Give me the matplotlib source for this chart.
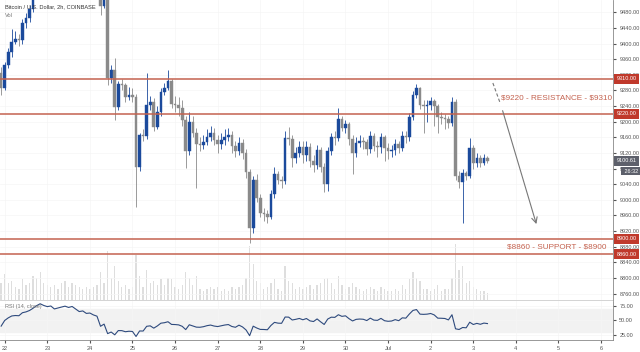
import numpy as np
import matplotlib
matplotlib.use("Agg")
import matplotlib.pyplot as plt
from matplotlib.patches import Rectangle

# BTC/USD 2h candles, Coinbase, 21 Jun 22:00 -> 3 Jul
opens0 = 9325
closes = [9286, 9345, 9378, 9405, 9411, 9409, 9452, 9465, 9488, 9530,
          9590, 9645, 9630, 9620, 9635, 9610, 9630, 9650, 9670, 9660,
          9680, 9660, 9640, 9650, 9630, 9635, 9620, 9610, 9497, 9520,
          9312, 9332, 9237, 9296, 9294, 9262, 9268, 9262, 9083, 9165,
          9163, 9242, 9250, 9187, 9225, 9276, 9285, 9303, 9245, 9242,
          9235, 9205, 9125, 9200, 9172, 9143, 9140, 9148, 9162, 9170,
          9152, 9143, 9152, 9160, 9165, 9137, 9125, 9145, 9120, 9070,
          8927, 9050, 9004, 8966, 8964, 8957, 9016, 9065, 9050, 9047,
          9157, 9155, 9108, 9120, 9135, 9115, 9135, 9100, 9090, 9128,
          9085, 9040, 9125, 9160, 9157, 9208, 9185, 9195, 9155, 9120,
          9145, 9150, 9147, 9130, 9163, 9138, 9135, 9160, 9132, 9125,
          9128, 9143, 9132, 9163, 9160, 9211, 9268, 9285, 9242, 9240,
          9243, 9252, 9240, 9211, 9210, 9208, 9196, 9250, 9060, 9045,
          9068, 9062, 9132, 9093, 9108, 9093, 9108, 9100.61]
highs = [9340, 9352, 9388, 9437, 9432, 9425, 9462, 9478, 9498, 9545,
         9600, 9660, 9660, 9640, 9645, 9642, 9638, 9660, 9685, 9680,
         9695, 9690, 9670, 9662, 9658, 9645, 9642, 9630, 9615, 9540,
         9530, 9345, 9363, 9305, 9310, 9300, 9290, 9285, 9270, 9172,
         9180, 9324, 9265, 9260, 9240, 9285, 9300, 9332, 9310, 9265,
         9262, 9255, 9215, 9225, 9215, 9185, 9160, 9165, 9180, 9190,
         9185, 9165, 9170, 9180, 9185, 9175, 9150, 9160, 9155, 9130,
         9080, 9060, 9065, 9015, 8980, 8975, 9025, 9085, 9075, 9060,
         9175, 9187, 9165, 9135, 9150, 9150, 9150, 9145, 9115, 9140,
         9135, 9095, 9135, 9170, 9175, 9235, 9215, 9205, 9200, 9165,
         9160, 9165, 9160, 9155, 9175, 9170, 9150, 9170, 9165, 9145,
         9140, 9155, 9150, 9175, 9175, 9222, 9278, 9296, 9290, 9255,
         9255, 9262, 9258, 9245, 9225, 9220, 9215, 9262, 9258, 9075,
         9080, 9075, 9158, 9140, 9120, 9115, 9118, 9112]
lows = [9268, 9280, 9338, 9365, 9398, 9395, 9398, 9440, 9455, 9480,
        9522, 9580, 9615, 9600, 9605, 9595, 9600, 9620, 9640, 9645,
        9650, 9645, 9625, 9628, 9620, 9615, 9605, 9590, 9473, 9490,
        9295, 9300, 9204, 9230, 9280, 9250, 9255, 9250, 8982, 9075,
        9150, 9155, 9230, 9175, 9180, 9215, 9268, 9280, 9235, 9225,
        9215, 9190, 9081, 9115, 9160, 9030, 9125, 9130, 9140, 9150,
        9140, 9120, 9130, 9140, 9150, 9120, 9110, 9115, 9105, 9055,
        8890, 8915, 8995, 8955, 8945, 8940, 8950, 9005, 9040, 9030,
        9040, 9140, 9085, 9095, 9110, 9095, 9100, 9085, 9070, 9080,
        9070, 9020, 9022, 9115, 9140, 9150, 9175, 9170, 9140, 9065,
        9110, 9135, 9130, 9115, 9120, 9125, 9110, 9120, 9100, 9105,
        9110, 9115, 9120, 9125, 9145, 9150, 9205, 9260, 9232, 9170,
        9200, 9230, 9190, 9170, 9195, 9180, 9185, 9190, 9050, 9030,
        8940, 9050, 9055, 9080, 9085, 9085, 9088, 9095]
volumes = [900, 1400, 900, 1000, 700, 600, 1100, 800, 900, 1300,
           1200, 1500, 900, 800, 700, 800, 600, 900, 1000, 700,
           900, 800, 700, 600, 700, 600, 700, 800, 1500, 900,
           2600, 1200, 1800, 1000, 700, 800, 600, 700, 2400, 1300,
           700, 1600, 900, 1000, 800, 1100, 800, 1200, 1100, 700,
           600, 800, 1500, 1200, 800, 1300, 600, 500, 600, 700,
           600, 700, 500, 600, 500, 700, 600, 700, 800, 1200,
           2900, 1900, 1000, 900, 600, 700, 900, 1100, 600, 500,
           1800, 1000, 900, 600, 700, 600, 700, 800, 600, 800,
           900, 1100, 1200, 900, 600, 1300, 800, 600, 700, 900,
           700, 600, 500, 600, 700, 600, 500, 700, 600, 500,
           500, 600, 500, 800, 600, 1100, 1500, 1200, 1000, 600,
           600, 500, 600, 800, 500, 600, 600, 1200, 3000, 1600,
           1800, 900, 1000, 700, 600, 500, 500, 400]

levels = [9310, 9220, 8900, 8860]
day_ticks = list(range(0, 15))
day_labels = ["22", "23", "24", "25", "26", "27", "28", "29", "30",
              "Jul", "2", "3", "4", "5", "6"]
rsi_seed_gain, rsi_seed_loss = 10.0, 12.0

# projection drawn on the chart: dashed lead-in, then arrow down to support
proj_dash_x, proj_dash_y = [11.46, 11.63], [9299, 9248]
proj_arrow_from, proj_arrow_to = (11.67, 9235), (12.50, 8931)

opens = [opens0] + closes[:-1]
t = (np.arange(len(closes)) - 1) / 12.0   # days since 22 Jun 00:00

# RSI(14), Wilder smoothing
prev = opens0
g, l = rsi_seed_gain, rsi_seed_loss
rsi = []
for c in closes:
    d = c - prev
    g = (g * 13 + max(d, 0)) / 14
    l = (l * 13 + max(-d, 0)) / 14
    rsi.append(100 - 100 / (1 + g / l))
    prev = c

plt.rcParams["font.family"] = ["Liberation Sans", "DejaVu Sans"]

BLUE = "#1b4a9c"
GREY = "#8a8a8a"
RED = "#c4624f"
TXT = "#555555"
FS = 4.0

fig = plt.figure(figsize=(6.4, 3.52), dpi=100)
fig.patch.set_facecolor("white")
ax = fig.add_axes([0, 52 / 352, 613 / 640, 300 / 352])
axr = fig.add_axes([0, 12 / 352, 613 / 640, 39 / 352], sharex=ax)

xlim = (-0.11, 14.28)

# volume on hidden twin axis
axv = ax.twinx()
axv.bar(t, volumes, width=0.03, color="#dedede", zorder=0)
axv.set_ylim(0, 16000)
axv.axis("off")

w = 0.062
for ti, o, c, h, lo in zip(t, opens, closes, highs, lows):
    col = BLUE if c >= o else GREY
    ax.vlines(ti, lo, h, color=col, lw=0.6, zorder=3)
    ax.add_patch(Rectangle((ti - w / 2, min(o, c)), w, max(abs(c - o), 1.5),
                           facecolor=col, edgecolor=col, lw=0.3, zorder=4))

for lv in levels:
    ax.axhline(lv, color=RED, lw=1.1, zorder=5)

ax.set_xlim(*xlim)
ax.set_ylim(8743.5, 9511.5)
ax.set_yticks(np.arange(8760, 9481, 40))
ax.yaxis.tick_right()
ax.yaxis.set_major_formatter(matplotlib.ticker.FormatStrFormatter("%.2f"))
ax.tick_params(axis="y", labelsize=FS, colors=TXT, length=2, pad=2.5)
ax.tick_params(axis="x", bottom=False, labelbottom=False)
ax.set_xticks(day_ticks)
ax.grid(True, color="#f5f5f5", lw=0.5)
ax.set_zorder(axv.get_zorder() + 1)
ax.patch.set_visible(False)
for s in ["top", "left", "bottom"]:
    ax.spines[s].set_visible(False)
ax.spines["right"].set_color("#888888")
ax.spines["right"].set_linewidth(0.6)

# price-level tags on the scale
tag = dict(boxstyle="square,pad=0.45", fc="#c0392b", ec="none")
for lv in levels:
    ax.text(1.006, lv, "%.2f" % lv, transform=ax.get_yaxis_transform(),
            fontsize=FS, color="white", va="center", ha="left", zorder=10,
            bbox=tag, clip_on=False)
last = dict(boxstyle="square,pad=0.45", fc="#5d606b", ec="none")
ax.text(1.006, closes[-1], "%.2f" % closes[-1], transform=ax.get_yaxis_transform(),
        fontsize=FS, color="white", va="center", ha="left", zorder=10,
        bbox=last, clip_on=False)
ax.text(1.016, closes[-1] - 27, " 26:32 ", transform=ax.get_yaxis_transform(),
        fontsize=FS, color="white", va="center", ha="left", zorder=10,
        bbox=dict(boxstyle="square,pad=0.3", fc="#5d606b", ec="none"), clip_on=False)

ax.text(0.008, 0.985, "Bitcoin / U.S. Dollar, 2h, COINBASE", transform=ax.transAxes,
        fontsize=4.1, color="#333333", va="top", ha="left", zorder=12)
ax.text(0.008, 0.958, "Vol", transform=ax.transAxes, fontsize=4.1,
        color="#777777", va="top", ha="left", zorder=12)

ax.text(12.95, 9260, r"\$9220 - RESISTANCE - \$9310", fontsize=5.9, color=RED,
        ha="center", va="center", zorder=6)
ax.text(12.97, 8880, r"\$8860 - SUPPORT - \$8900", fontsize=5.9, color=RED,
        ha="center", va="center", zorder=6)

# projected move
ax.plot(proj_dash_x, proj_dash_y, color="#777777", lw=0.8, ls=(0, (3, 2)), zorder=6)
ax.annotate("", xy=proj_arrow_to, xytext=proj_arrow_from,
            arrowprops=dict(arrowstyle="->", color="#777777", lw=0.8), zorder=6)

# RSI pane
axr.axhspan(30, 70, color="#f2f2f2", zorder=0)
axr.plot(t, rsi, color="#2e4a7d", lw=0.8, zorder=3)
axr.set_ylim(15.9, 83.6)
axr.set_yticks([25, 50, 75])
axr.yaxis.tick_right()
axr.yaxis.set_major_formatter(matplotlib.ticker.FormatStrFormatter("%.2f"))
axr.tick_params(axis="y", labelsize=FS, colors=TXT, length=2, pad=2.5)
axr.set_xticks(day_ticks)
axr.set_xticklabels(day_labels)
axr.tick_params(axis="x", labelsize=FS, colors=TXT, length=2, pad=2)
axr.grid(True, color="#f5f5f5", lw=0.5)
for s in ["top", "left"]:
    axr.spines[s].set_visible(False)
axr.spines["right"].set_color("#888888")
axr.spines["bottom"].set_color("#888888")
axr.spines["right"].set_linewidth(0.6)
axr.spines["bottom"].set_linewidth(0.6)
axr.text(0.008, 0.93, "RSI (14, close)", transform=axr.transAxes, fontsize=FS,
         color="#777777", va="top", ha="left")
ax.axhline(8743.5, color="#cccccc", lw=0.6, clip_on=False)

fig.savefig("out.png", dpi=100)
